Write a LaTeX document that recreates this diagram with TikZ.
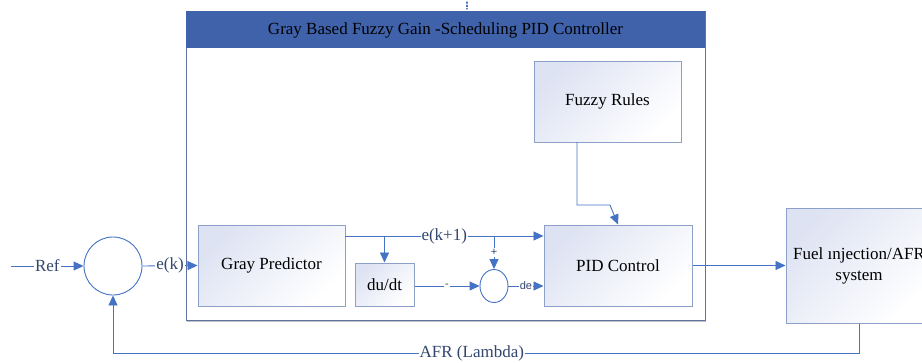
\documentclass[tikz,border=0pt]{standalone}
\usepackage{fontspec}
\setmainfont{Liberation Serif}
\setsansfont{Liberation Sans}
\usetikzlibrary{arrows.meta,shapes.geometric}
\definecolor{lineblue}{RGB}{68,114,196}
\definecolor{boxborder}{RGB}{140,160,200}
\definecolor{boxfill}{RGB}{222,227,243}
\definecolor{headblue}{RGB}{63,98,170}
\definecolor{contborder}{RGB}{95,115,160}
\definecolor{labelcol}{RGB}{50,70,110}
\begin{document}
\begin{tikzpicture}[x=1pt,y=-1pt,
  font=\fontsize{17}{21}\selectfont,
  conn/.style={draw=lineblue, line width=0.9pt},
  arr/.style={conn, -{Triangle[length=10pt,width=9pt]}},
  blockbox/.style={draw=boxborder, line width=1pt, top color=boxfill, bottom color=white, shading angle=45, inner sep=0pt, align=center},
  lbl/.style={fill=white, inner sep=1pt, text=labelcol},
  tiny/.style={fill=white, inner sep=1pt, text=labelcol, font=\fontsize{11}{12}\selectfont\sffamily}
]
\useasboundingbox (0,0) rectangle (922,362);
\clip (0,0) rectangle (922,362);

% container
\draw[gray!50, line width=1.2pt] (187,321) -- (706,321);
\draw[draw=contborder, line width=0.8pt, fill=white] (186,11) rectangle (705,320);
\node[fill=headblue, minimum width=519pt, minimum height=37pt, anchor=north west, inner sep=0pt] (head) at (186,11) {};
\node (title) at (445.5,30) {Gray Based Fuzzy Gain -Scheduling PID Controller};
\draw[lineblue, dotted, line width=1.3pt, line cap=round] (467,2) -- (467,9);

% blocks
\node[blockbox, minimum width=147pt, minimum height=81pt] (fuzzy) at (607.5,101.5) {Fuzzy Rules};
\node[blockbox, minimum width=148pt, minimum height=81pt] (pid) at (618,265.5) {PID Control};
\node[blockbox, minimum width=147pt, minimum height=81pt] (gray) at (271.5,265.5) {Gray Predictor};
\node[blockbox, minimum width=59pt, minimum height=43pt] (dudt) at (384.5,284.5) {du/dt};
\node[blockbox, minimum width=146pt, minimum height=115pt] (fuel) at (859,265.5) {Fuel ınjection/AFR\\system};

\node[draw=lineblue, line width=0.9pt, circle, minimum size=58pt, inner sep=0pt] (sum) at (113,266) {};
\node[draw=lineblue, line width=0.9pt, ellipse, minimum width=28pt, minimum height=33pt, inner sep=0pt] (sc) at (494,286) {};

% coordinates
\coordinate (refin) at (11,266);
\coordinate (ek1) at (345,236);
\coordinate (fz1) at (577,142);
\coordinate (fz2) at (577,205);
\coordinate (fz3) at (610,205);
\coordinate (fbR) at (859,353);
\coordinate (fbL) at (113,353);

% connectors
\draw[arr] (refin) -- node[lbl]{Ref} (sum.west);
\draw[arr] (sum.east) -- node[lbl]{e(k)} (gray.west);
\draw[arr] (ek1) -- node[lbl]{e(k+1)} (ek1 -| pid.west);
\draw[arr] (ek1 -| dudt.north) -- (dudt.north);
\draw[arr] (ek1 -| sc.north) -- node[tiny]{+} (sc.north);
\draw[arr] (dudt.east |- sc.west) -- node[tiny]{-} (sc.west);
\draw[arr] (sc.east) -- node[tiny]{de} (sc.east -| pid.west);
\draw[arr] (fz1) -- (fz2) -- (fz3) -- (pid.north);
\draw[arr] (pid.east) -- (fuel.west);
\draw[arr] (fuel.south) -- (fbR) -- node[lbl, pos=0.519]{AFR (Lambda)} (fbL) -- (sum.south);
\end{tikzpicture}
\end{document}
